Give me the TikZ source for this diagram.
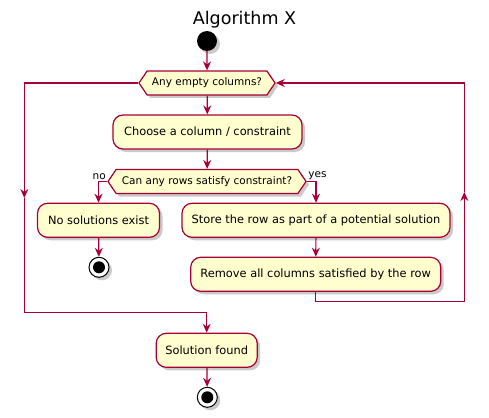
\documentclass[tikz,border=0pt]{standalone}
\usepackage{fontspec}
\setmainfont{DejaVu Sans}
\usetikzlibrary{arrows.meta,shapes.symbols,shadows}
\definecolor{umlred}{HTML}{A80036}
\definecolor{umlfill}{HTML}{FEFECE}
\tikzset{
  shade/.style={drop shadow={shadow xshift=3pt,shadow yshift=-3pt,opacity=0.35,fill=black!60}},
  activity/.style={rectangle, rounded corners=10pt, draw=umlred, fill=umlfill, line width=1.2pt,
    minimum height=34pt, font=\fontsize{11.4}{13}\selectfont, inner sep=0pt, shade},
  decision/.style={signal, signal to=west and east, signal pointer angle=112, draw=umlred,
    fill=umlfill, line width=1.2pt, minimum height=24pt, inner sep=0pt,
    font=\fontsize{10.5}{12}\selectfont, shade},
  startdot/.style={circle, fill=black, minimum size=20pt, inner sep=0pt, shade},
  stopdot/.style={circle, draw=black, fill=white, line width=1pt, minimum size=20pt, inner sep=0pt, shade,
    path picture={\fill[black] (path picture bounding box.center) circle (6pt);}},
  flow/.style={draw=umlred, line width=1.2pt, -{Stealth[length=9pt,width=8pt,inset=3pt]}},
  branch/.style={font=\fontsize{10.5}{12}\selectfont, inner sep=1pt}
}
\begin{document}
\begin{tikzpicture}[x=1pt,y=-1pt]
  \useasboundingbox (0,0) rectangle (489,417);
  \node[font=\fontsize{17.5}{20}\selectfont] (title) at (244.5,20) {Algorithm X};
  \node[startdot] (start) at (207,41) {};
  \node[decision, minimum width=136pt] (q1) at (207,83) {Any empty columns?};
  \node[activity, minimum width=189pt] (choose) at (207.5,132) {Choose a column / constraint};
  \node[decision, minimum width=198pt] (q2) at (207,181.5) {Can any rows satisfy constraint?};
  \node[activity, minimum width=122pt] (nosol) at (98.5,220.3) {No solutions exist};
  \node[stopdot] (stop1) at (99,267.3) {};
  \node[activity, minimum width=268pt] (store) at (316,220.3) {Store the row as part of a potential solution};
  \node[activity, minimum width=250pt] (remove) at (315.7,274.3) {Remove all columns satisfied by the row};
  \node[activity, minimum width=101pt] (found) at (206.7,350.3) {Solution found};
  \node[stopdot] (stop2) at (207.3,397.3) {};
  \coordinate (l1) at (24.3,83);
  \coordinate (lmid) at (24.3,198);
  \coordinate (l2) at (24.3,312.7);
  \coordinate (l3) at (206.7,312.7);
  \coordinate (r1) at (315.7,301.7);
  \coordinate (r2) at (464.3,301.7);
  \coordinate (rmid) at (464.3,192);
  \coordinate (r3) at (464.3,83);
  \draw[flow] (start) -- (q1);
  \draw[flow] (q1) -- (choose);
  \draw[flow] (choose) -- (q2);
  \draw[flow] (q2.west) node[branch, anchor=south east] {no} -| (nosol.north);
  \draw[flow] (q2.east) node[branch, anchor=south west] {yes} -| (store.north);
  \draw[flow] (nosol) -- (stop1);
  \draw[flow] (store) -- (remove);
  % loop back to the first test
  \draw[flow] (remove.south) -- (r1) -- (r2) -- (rmid);
  \draw[flow] (rmid) -- (r3) -- (q1.east);
  % no empty column left
  \draw[flow] (q1.west) -- (l1) -- (lmid);
  \draw[flow] (lmid) -- (l2) -- (l3) -- (found.north);
  \draw[flow] (found) -- (stop2);
\end{tikzpicture}
\end{document}
